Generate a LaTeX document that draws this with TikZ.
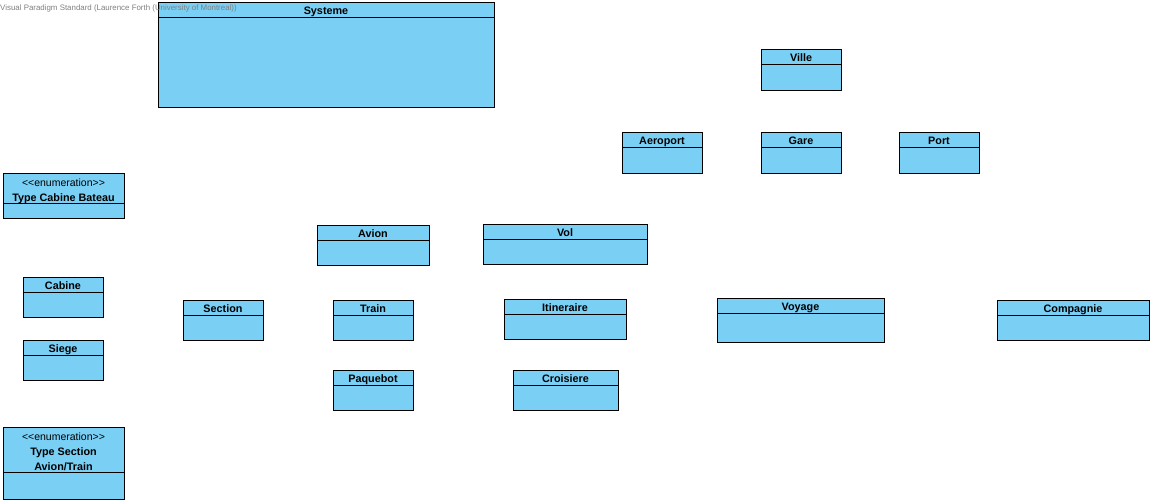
\documentclass[tikz,border=0pt]{standalone}
\usepackage{fontspec}
\setmainfont{Liberation Sans}
\usepackage{xcolor}
\definecolor{classfill}{HTML}{7ACFF5}
\definecolor{markgray}{HTML}{808080}
\usepackage{tikz}
\usetikzlibrary{positioning}

\begin{document}
\begin{tikzpicture}[x=1pt, y=-1pt,
    classbox/.style={draw=black, fill=classfill, line width=0.9pt},
    classname/.style={font=\fontsize{10.8}{15}\selectfont\bfseries, inner sep=0pt, anchor=base},
    stereo/.style={font=\fontsize{10.5}{15}\selectfont, inner sep=0pt, anchor=base}]
    \useasboundingbox (0,0) rectangle (1153,503);

    % name / left / top / right / bottom / header line / text
    \foreach \nm/\xa/\ya/\xb/\yb/\yh/\txt in {
        systeme/158/2/494/107/17/Systeme,
        ville/761/49/841/90/64/Ville,
        aeroport/622/132/702/173/147/Aeroport,
        gare/761/132/841/173/147/Gare,
        port/899/132/979/173/147/Port,
        cabine/23/277/103/317/292/Cabine,
        siege/23/340/103/380/355/Siege,
        section/183/300/263/340/315/Section,
        avion/317/225/429/265/240/Avion,
        vol/483/224/647/264/239/Vol,
        train/333/300/413/340/315/Train,
        itineraire/504/299/626/339/314/Itineraire,
        paquebot/333/370/413/410/385/Paquebot,
        croisiere/513/370/618/410/385/Croisiere,
        voyage/717/298/884/342/313/Voyage,
        compagnie/997/300/1149/340/315/Compagnie}
    {
      \draw[classbox] (\xa,\ya) rectangle (\xb,\yb);
      \draw[line width=0.9pt] (\xa,\yh) -- (\xb,\yh);
      \node[classname] (\nm) at ({(\xa+\xb)/2},{\yh-2.5}) {\txt};
    }

    % enumerations
    \draw[classbox] (3,173) rectangle (124,218);
    \draw[line width=0.9pt] (3,203) -- (124,203);
    \node[stereo] (cabinestereo) at (63.5,186) {<{}<enumeration>{}>};
    \node[classname] (typecabine) at (63.5,201) {Type Cabine Bateau};

    \draw[classbox] (3,427) rectangle (124,499);
    \draw[line width=0.9pt] (3,472) -- (124,472);
    \node[stereo] (sectionstereo) at (63.5,440) {<{}<enumeration>{}>};
    \node[classname] (typesection) at (63.5,455) {Type Section};
    \node[classname] (typesection2) at (63.5,470) {Avion/Train};

    \node[anchor=base west, text=markgray, font=\fontsize{7.9}{8}\selectfont, inner sep=0pt]
      (mark) at (0,10.5) {Visual Paradigm Standard (Laurence Forth (University of Montreal))};
\end{tikzpicture}
\end{document}
